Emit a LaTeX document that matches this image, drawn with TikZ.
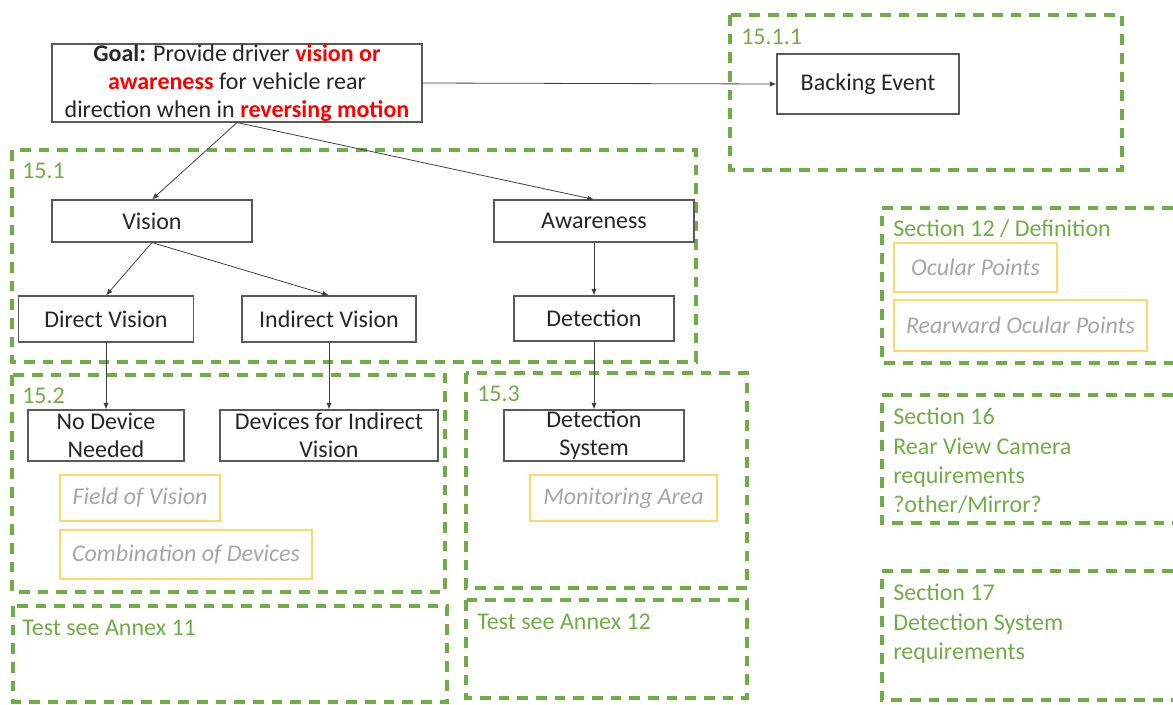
\documentclass[tikz,border=0pt]{standalone}
\usepackage{fontspec}
\setmainfont{Carlito}
\usetikzlibrary{arrows.meta}

\definecolor{zonegreen}{RGB}{112,173,71}
\definecolor{noteyellow}{RGB}{255,217,102}
\definecolor{notegray}{RGB}{166,166,166}
\definecolor{goalred}{RGB}{255,0,0}

\tikzset{
  sz/.style 2 args={minimum width=#1*0.75pt, minimum height=#2*0.75pt},
  box/.style={draw=black!65, line width=0.8pt, fill=white, align=center, inner sep=0pt,
    text=black!85, font=\fontsize{18}{21}\selectfont},
  note/.style={draw=noteyellow, line width=0.8pt, inner sep=0pt, text=notegray,
    font=\fontsize{18}{21}\selectfont\itshape},
  zone/.style={draw=zonegreen, line width=2.3pt, dash pattern=on 8pt off 6pt},
  zonelabel/.style={anchor=north west, inner sep=0pt, align=left, text=zonegreen,
    font=\fontsize{18}{22}\selectfont},
  link/.style={draw=black!75, line width=0.6pt, -{Latex[length=5pt,width=4pt]}}
}

\begin{document}
\begin{tikzpicture}[x=0.75pt,y=-0.75pt]
    \useasboundingbox (0,0) rectangle (1173,704);

    % dashed section frames
    \draw[zone] (730,15) rectangle (1122,170);
    \draw[zone] (12,150) rectangle (696,362);
    \draw[zone] (12,375) rectangle (445,592);
    \draw[zone] (13,606) rectangle (447,702);
    \draw[zone] (466,373) rectangle (747,588);
    \draw[zone] (466,600) rectangle (747,698);
    \foreach \top/\bot in {208/363, 395/523, 571/700}{
        \draw[zone] (1173,\top) -- (882,\top) -- (882,\bot) -- (1173,\bot);
    }

    \node[zonelabel] (l1511) at (741,29) {15.1.1};
    \node[zonelabel] (l151) at (22,163) {15.1};
    \node[zonelabel] (l152) at (22,388) {15.2};
    \node[zonelabel] (l153) at (477,386) {15.3};
    \node[zonelabel] (lannex11) at (22,620) {Test see Annex 11};
    \node[zonelabel] (lannex12) at (477,614) {Test see Annex 12};
    \node[zonelabel] (lsec12) at (893,220) {Section 12 / Definition};
    \node[zonelabel] (lsec16) at (893,408) {Section 16\\Rear View Camera\\requirements\\?other/Mirror?};
    \node[zonelabel] (lsec17) at (893,584) {Section 17\\Detection System\\requirements};

    % boxes
    \node[box,sz={370}{78}] (goal) at (237,83) {\textbf{Goal:} Provide driver \textcolor{goalred}{\textbf{vision or}}\\
        \textcolor{goalred}{\textbf{awareness}} for vehicle rear\\
        direction when in \textcolor{goalred}{\textbf{reversing motion}}};
    \node[box,sz={182}{60}] (event) at (868,84) {Backing Event};
    \node[box,sz={200}{42}] (vision) at (152,221) {Vision};
    \node[box,sz={200}{42}] (aware) at (594,221) {Awareness};
    \node[box,sz={175}{46}] (direct) at (106,319) {Direct Vision};
    \node[box,sz={174}{46}] (indirect) at (329,319) {Indirect Vision};
    \node[box,sz={160}{45}] (detect) at (594,318.5) {Detection};
    \node[box,sz={156}{51}] (nodevice) at (106,435.5) {No Device\\Needed};
    \node[box,sz={218}{51}] (devices) at (329,435.5) {Devices for Indirect\\Vision};
    \node[box,sz={180}{51}] (detsys) at (594,435.5) {Detection\\System};

    % notes
    \node[note,sz={160}{46}] (fov) at (140,498) {Field of Vision};
    \node[note,sz={252}{49}] (combo) at (186,554.5) {Combination of Devices};
    \node[note,sz={187}{46}] (monitor) at (623.5,498) {Monitoring Area};
    \node[note,sz={163}{49}] (ocular) at (975.5,267.5) {Ocular Points};
    \node[note,sz={253}{51}] (rearward) at (1020.5,325.5) {Rearward Ocular Points};

    % links
    \draw[link] (goal.east) -- (event.west);
    \foreach \a/\b in {goal/vision, goal/aware, vision/direct, vision/indirect, aware/detect,
        direct/nodevice, indirect/devices, detect/detsys}{
        \draw[link] (\a.south) -- (\b.north);
    }
\end{tikzpicture}
\end{document}
